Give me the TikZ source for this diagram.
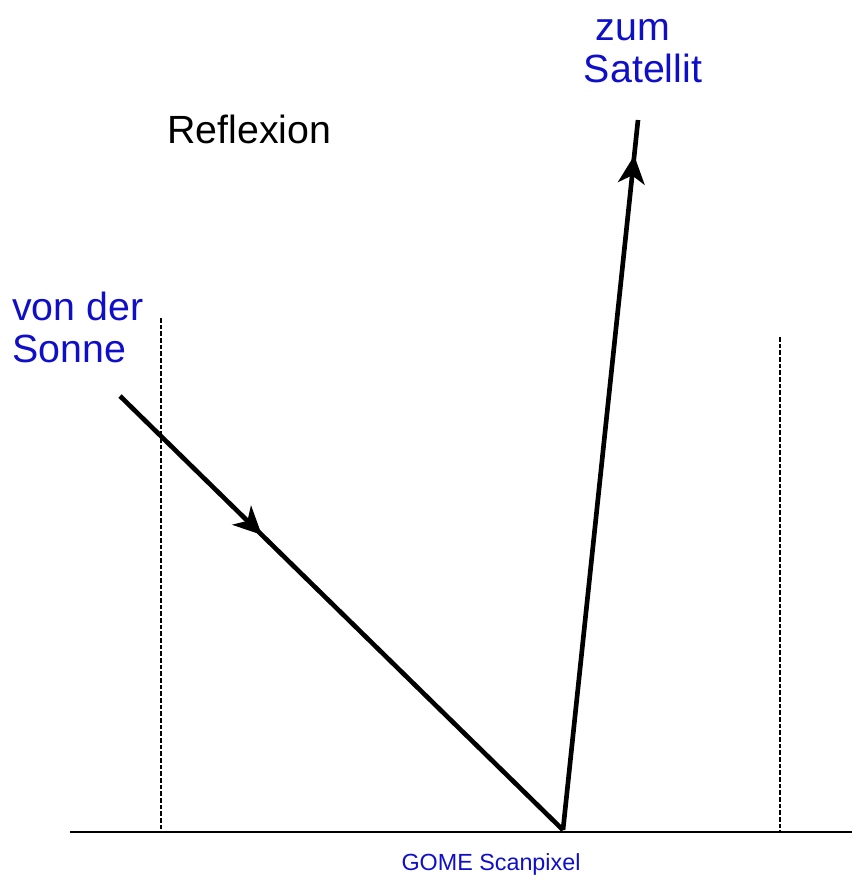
\documentclass[tikz,border=0pt]{standalone}
\usepackage{fontspec}
\setmainfont{Liberation Sans}
\usetikzlibrary{arrows.meta,decorations.markings}
\definecolor{lblue}{RGB}{15,15,200}
\tikzset{
  ray/.style={line width=3.5pt},
  guide/.style={line width=1pt,dash pattern=on 3.5pt off 1.5pt},
  biglabel/.style={font=\fontsize{29.5}{34}\selectfont,inner sep=0pt},
  bluelabel/.style={biglabel,text=lblue},
  tip/.style={decoration={markings,mark=at position #1 with {\arrow{Stealth[length=21pt,width=20pt,inset=6pt]}}},postaction={decorate}},
}
\begin{document}
\begin{tikzpicture}[x=0.75pt,y=-0.75pt]
\useasboundingbox (0,0) rectangle (852,882);
\coordinate (gl) at (70,832);
\coordinate (gr) at (852,832);
\coordinate (d1t) at (161,318);
\coordinate (d1b) at (161,832);
\coordinate (d2t) at (780,337);
\coordinate (d2b) at (780,832);
\coordinate (sun) at (120,396);
\coordinate (px) at (563,830);
\coordinate (sat) at (638,120);
\draw[line width=1.5pt] (gl) -- (gr);
\draw[guide] (d1t) -- (d1b);
\draw[guide] (d2t) -- (d2b);
\draw[ray,tip=0.32] (sun) -- (px);
\draw[ray,tip=0.95] (px) -- (sat);
\node[biglabel,anchor=base west] (refl) at (167,143) {Reflexion};
\node[bluelabel,anchor=base west] (von) at (12,320) {von der};
\node[bluelabel,anchor=base west] (sonne) at (12,362) {Sonne};
\node[bluelabel,anchor=base] (zum) at (633,40) {zum};
\node[bluelabel,anchor=base] (satl) at (643,82) {Satellit};
\node[font=\fontsize{17.5}{20}\selectfont,text=lblue,inner sep=0pt,anchor=base] (gome) at (491,870) {GOME Scanpixel};
\end{tikzpicture}
\end{document}
